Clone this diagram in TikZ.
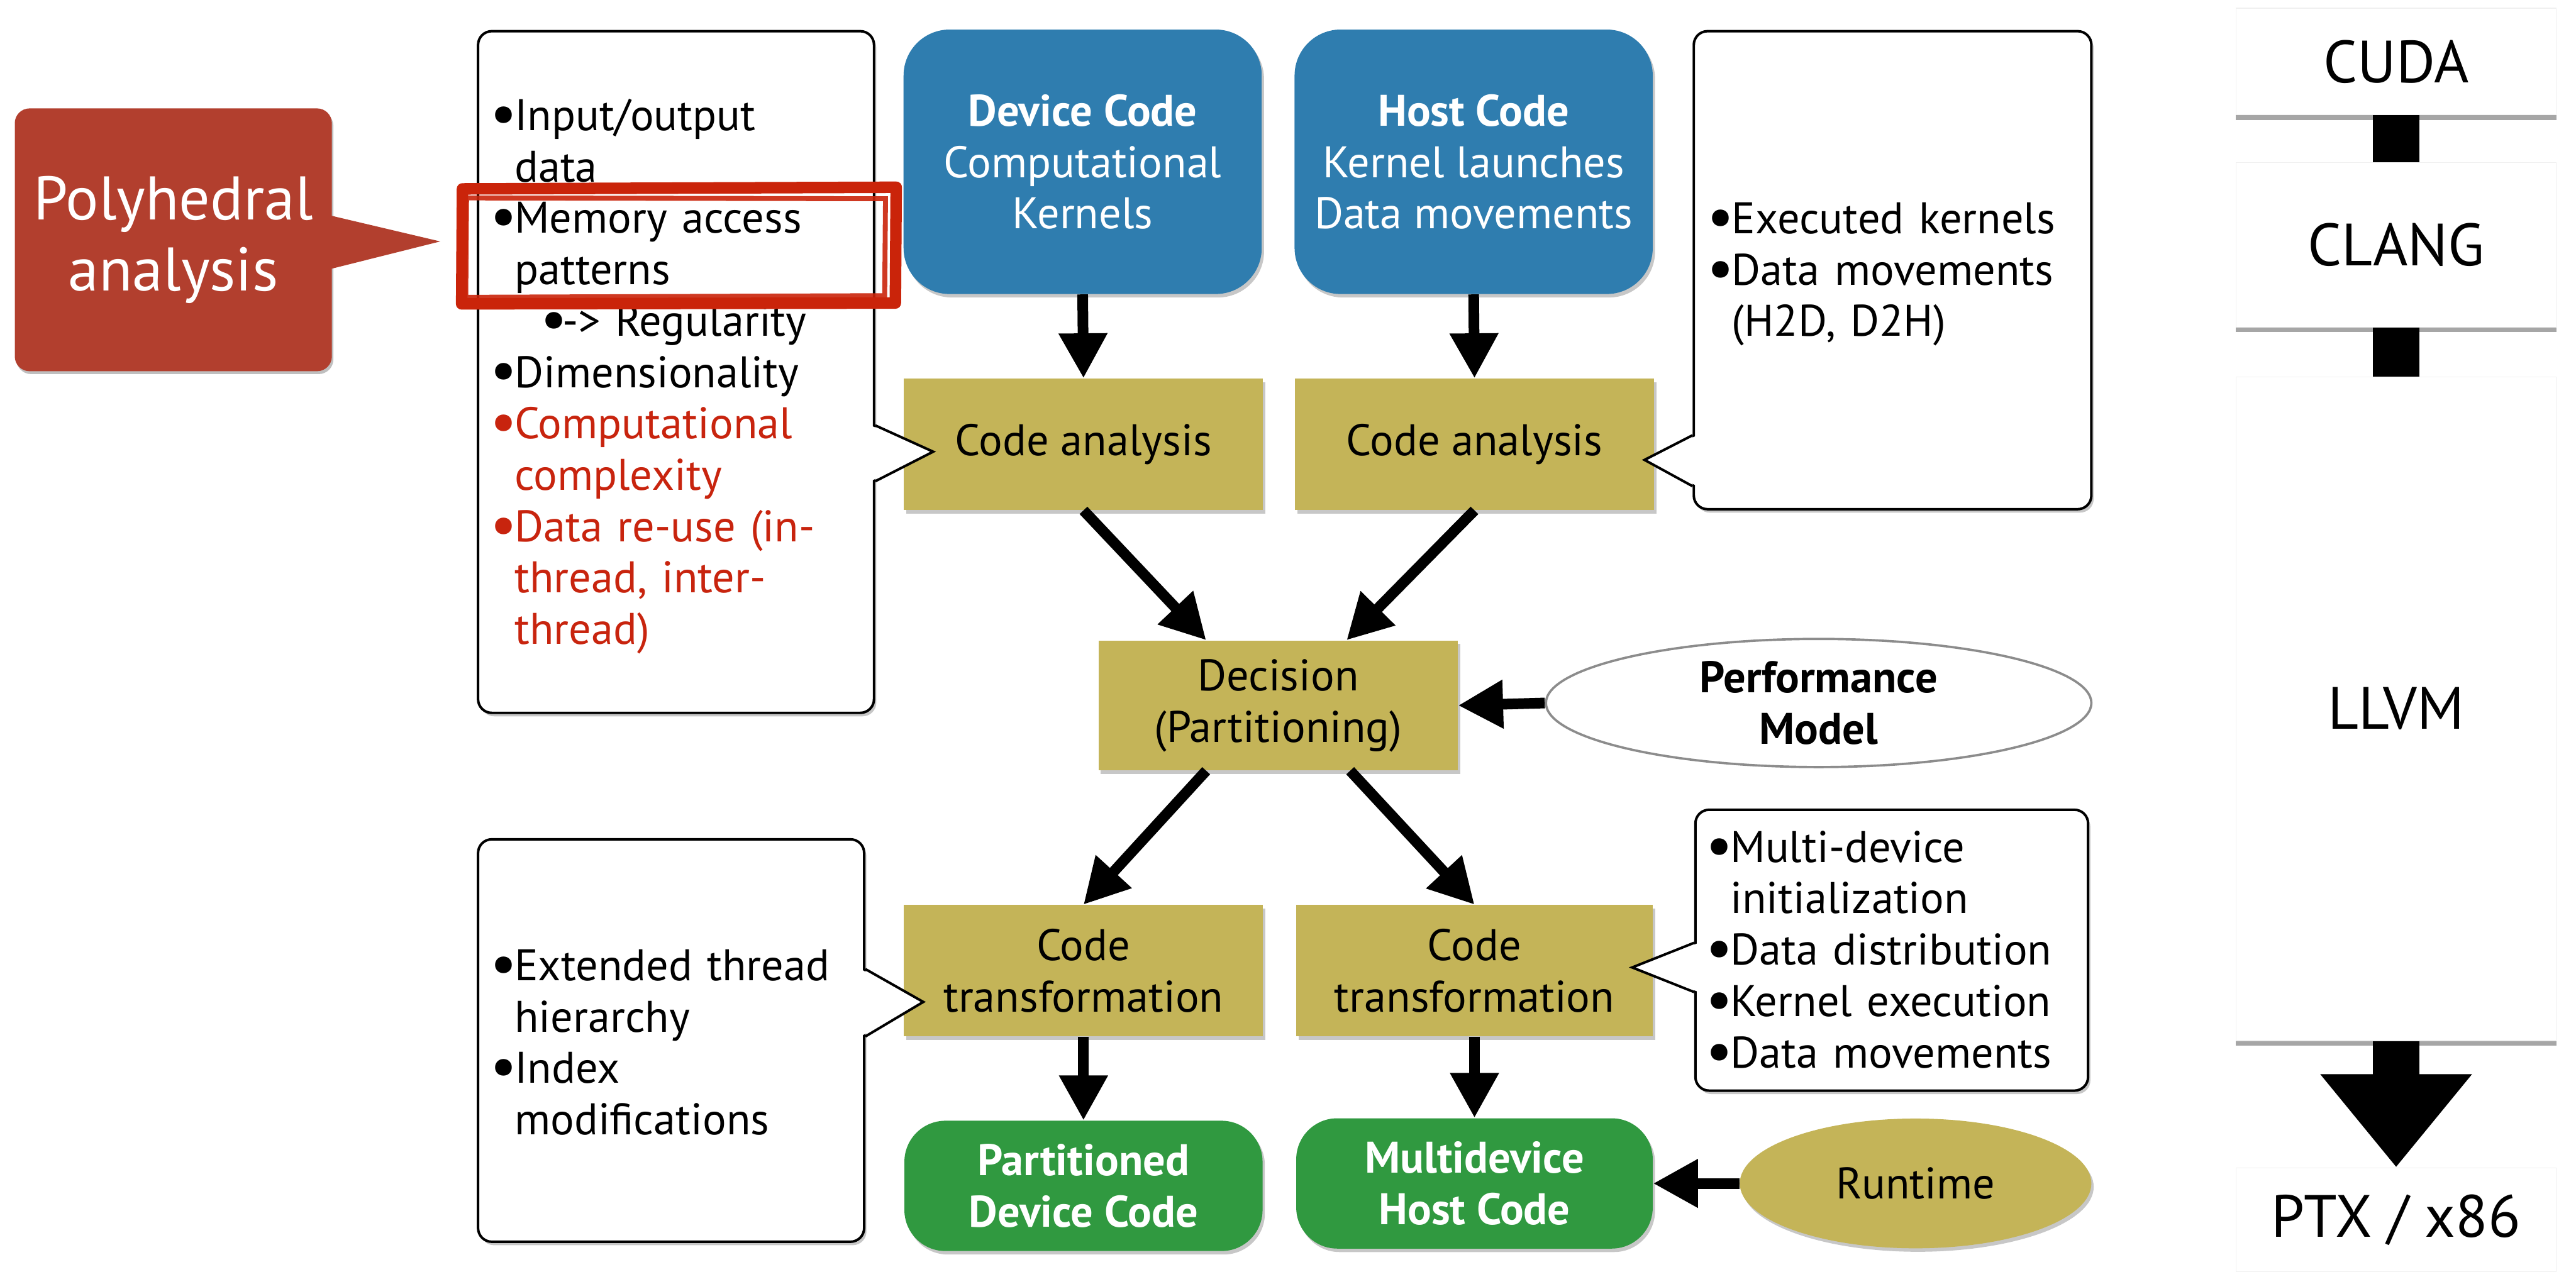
\documentclass[tikz,border=0pt]{standalone}
\usepackage{fontspec}
\usepackage{graphicx}
\setmainfont{PT Sans}
\usetikzlibrary{arrows.meta,shapes.geometric,shadows,calc}
\setlength{\parindent}{0pt}

\definecolor{boxblue}{RGB}{47,125,175}
\definecolor{boxtan}{RGB}{196,180,88}
\definecolor{boxgreen}{RGB}{48,153,64}
\definecolor{polyred}{RGB}{178,63,46}
\definecolor{notered}{RGB}{200,36,14}
\definecolor{markred}{RGB}{202,36,10}
\definecolor{ringgrey}{RGB}{140,140,140}

% bullet marks for the note lists
\newcommand\bigdot{\raisebox{-1.6pt}{\scalebox{1.35}{\textbullet}}}
\newcommand\notebullet{\makebox[0.45cm][l]{\bigdot}}
\newcommand\noteindent{\hspace*{0.45cm}}

\begin{document}
\begin{tikzpicture}[x=0.03cm,y=-0.03cm,
  bodyfont/.style={font=\fontsize{23}{26.7}\selectfont},
  softshadow/.style={drop shadow={shadow xshift=1.2pt,shadow yshift=-1.8pt,opacity=0.22,fill=black}},
  stackshadow/.style={drop shadow={shadow xshift=0pt,shadow yshift=-2.5pt,opacity=0.35,fill=black}},
  bluebox/.style={rectangle,rounded corners=0.84cm,fill=boxblue,text=white,
    minimum width=6.54cm,minimum height=4.83cm,inner sep=0pt,align=center,bodyfont,softshadow},
  tanbox/.style={rectangle,fill=boxtan,minimum width=6.56cm,minimum height=2.4cm,
    inner sep=0pt,align=center,bodyfont,softshadow},
  greenbox/.style={rectangle,rounded corners=0.75cm,fill=boxgreen,text=white,
    minimum width=6.54cm,minimum height=2.38cm,inner sep=0pt,align=center,bodyfont,softshadow},
  calloutbox/.style={rectangle,draw=black,line width=1.3pt,fill=white,rounded corners=0.25cm,softshadow},
  notes/.style={anchor=north west,inner sep=0pt,align=left,bodyfont},
  bigarrow/.style={line width=0.195cm,-{Triangle[length=0.82cm,width=0.84cm]}},
  stackbox/.style={rectangle,fill=white,draw=black!6,line width=0.4pt,minimum width=5.85cm,
    inner sep=0pt,font=\fontsize{31}{36}\selectfont,stackshadow},
  stackbar/.style={line width=0.855cm}]

\useasboundingbox (0,0) rectangle (1568,774.3);
\clip (0,0) rectangle (1568,774.3);

% ---- compiler stack on the right ----
\node[stackbox,minimum height=1.95cm]  (cuda)  at (1458.5,37.5)  {CUDA};
\node[stackbox,minimum height=3.01cm]  (clang) at (1458.5,149)   {CLANG};
\node[stackbox,minimum height=12.12cm] (llvm)  at (1458.5,431.5) {LLVM};
\node[stackbox,minimum height=1.9cm]   (ptx)   at (1458.5,742.6) {PTX / x86};
\draw[stackbar] (cuda.south) -- (clang.north);
\draw[stackbar] (clang.south) -- (llvm.north);
\draw[stackbar,-{Triangle[length=1.7cm,width=2.655cm]}] (llvm.south) -- (ptx.north);

% ---- polyhedral analysis tag ----
\node[rectangle,rounded corners=0.27cm,fill=polyred,text=white,minimum width=5.79cm,
  minimum height=4.8cm,inner sep=0pt,align=center,font=\fontsize{32}{36.7}\selectfont,
  drop shadow={shadow xshift=0.8pt,shadow yshift=-1.5pt,opacity=0.25,fill=black}]
  (poly) at (105.5,146) {Polyhedral\\analysis};
\coordinate (polytip) at (268,147);
\fill[polyred] ($(poly.east)+(-2,-15)$) -- (polytip) -- ($(poly.east)+(-2,18)$) -- cycle;

% ---- main flow ----
\node[bluebox] (dev)  at (659,98.5) {\textbf{Device Code}\\Computational\\Kernels};
\node[bluebox] (host) at (897,98.5) {\textbf{Host Code}\\Kernel launches\\Data movements};

\node[tanbox] (ca1) at (659.5,270.5) {Code analysis};
\node[tanbox] (ca2) at (897.5,270.5) {Code analysis};
\node[tanbox,minimum height=2.37cm] (dec) at (778,429.5) {Decision\\(Partitioning)};
\node[tanbox] (ct1) at (659.5,591) {Code\\transformation};
\node[tanbox,minimum width=6.51cm] (ct2) at (897.5,591) {Code\\transformation};

\node[greenbox] (gr1) at (659.5,722) {\textbf{Partitioned}\\\textbf{Device Code}};
\node[greenbox,minimum width=6.51cm] (gr2) at (897.5,720.5) {\textbf{Multidevice}\\\textbf{Host Code}};

\node[ellipse,draw=ringgrey,line width=1.2pt,fill=white,minimum width=9.96cm,
  minimum height=2.34cm,inner sep=0pt,align=center,bodyfont]
  (perf) at (1107,428) {\textbf{Performance}\\\textbf{Model}};
\node[ellipse,fill=boxtan,minimum width=6.42cm,minimum height=2.37cm,inner sep=0pt,
  bodyfont,softshadow] (run) at (1166,720.5) {Runtime};

\draw[bigarrow] (dev.south) -- (ca1.north);
\draw[bigarrow] (host.south) -- (ca2.north);
\draw[bigarrow] (ca1.south) -- ($(dec.north west)!0.30!(dec.north east)$);
\draw[bigarrow] (ca2.south) -- ($(dec.north west)!0.69!(dec.north east)$);
\draw[bigarrow] ($(dec.south west)!0.30!(dec.south east)$) -- (ct1.north);
\draw[bigarrow] ($(dec.south west)!0.70!(dec.south east)$) -- (ct2.north);
\draw[bigarrow] (ct1.south) -- (gr1.north);
\draw[bigarrow] (ct2.south) -- (gr2.north);
\draw[bigarrow] (perf.west) -- (dec.east);
\draw[bigarrow] (run.west) -- (gr2.east);

% ---- callouts ----
% upper left: analysis of the device code
\node[calloutbox,minimum width=7.23cm,minimum height=12.45cm] (lcall) at (411.5,226.5) {};
\coordinate (lcalltip) at (568,275);
\fill[white] ($(lcall.east)+(-3,32.5)$) -- (lcalltip) -- ($(lcall.east)+(-3,66.5)$) -- cycle;
\draw[line width=1.3pt] ($(lcall.east)+(0,32.5)$) -- (lcalltip) -- ($(lcall.east)+(0,66.5)$);
\node[notes,text width=7cm] (lnotes) at (298,57.3) {\strut\notebullet Input/output\\
\noteindent data\\
\notebullet Memory access\\
\noteindent patterns\\
\hspace*{0.92cm}\makebox[0.4cm][l]{\bigdot}-> Regularity\\
\notebullet Dimensionality\\
\color{notered}\notebullet Computational\\
\noteindent complexity\\
\notebullet Data re-use (in-\\
\noteindent thread, inter-\\
\noteindent thread)};

% upper right: analysis of the host code
\node[calloutbox,minimum width=7.26cm,minimum height=8.73cm] (rcall) at (1152,164.5) {};
\coordinate (rcalltip) at (1001,280);
\fill[white] ($(rcall.west)+(3,100.5)$) -- (rcalltip) -- ($(rcall.west)+(3,131.5)$) -- cycle;
\draw[line width=1.3pt] ($(rcall.west)+(0,100.5)$) -- (rcalltip) -- ($(rcall.west)+(0,131.5)$);
\node[notes,text width=7cm] (rnotes) at (1039,120.1) {\strut\notebullet Executed kernels\\
\notebullet Data movements\\
\noteindent (H2D, D2H)};

% lower left: device code transformation
\node[calloutbox,minimum width=7.05cm,minimum height=7.35cm] (llcall) at (408.5,633.5) {};
\coordinate (llcalltip) at (562,610);
\fill[white] ($(llcall.east)+(-3,-43.5)$) -- (llcalltip) -- ($(llcall.east)+(-3,-2.5)$) -- cycle;
\draw[line width=1.3pt] ($(llcall.east)+(0,-43.5)$) -- (llcalltip) -- ($(llcall.east)+(0,-2.5)$);
\node[notes,text width=7cm] (llnotes) at (298,574.8) {\strut\notebullet Extended thread\\
\noteindent hierarchy\\
\notebullet Index\\
\noteindent modifications};

% lower right: host code transformation
\node[calloutbox,minimum width=7.17cm,minimum height=5.13cm] (lrcall) at (1151.5,578.5) {};
\coordinate (lrcalltip) at (993.5,589);
\fill[white] ($(lrcall.west)+(3,-4.5)$) -- (lrcalltip) -- ($(lrcall.west)+(3,25.5)$) -- cycle;
\draw[line width=1.3pt] ($(lrcall.west)+(0,-4.5)$) -- (lrcalltip) -- ($(lrcall.west)+(0,25.5)$);
\node[notes,text width=7cm] (lrnotes) at (1038,502.8) {\strut\notebullet Multi-device\\
\noteindent initialization\\
\notebullet Data distribution\\
\notebullet Kernel execution\\
\notebullet Data movements};

% ---- hand-drawn highlight around the memory access item ----
\draw[markred,line width=0.21cm,line join=round] (281.5,115) -- (545.5,114) -- (545,184.5) -- (281,185) -- cycle;
\draw[markred,line width=0.09cm,opacity=0.9] (284,120.5) -- (539,121) -- (538.5,180) -- (283.5,181) -- cycle;

\end{tikzpicture}
\end{document}
